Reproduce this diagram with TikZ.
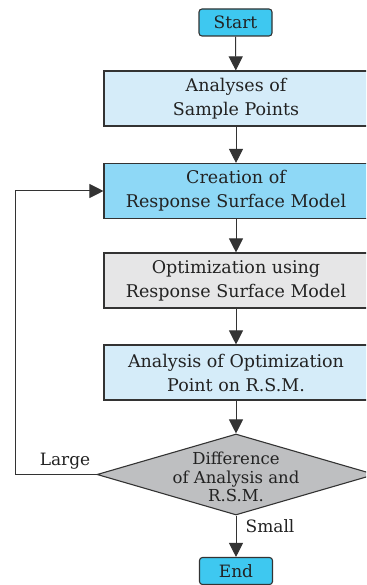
\documentclass[tikz,border=0pt]{standalone}
\usepackage{fontspec}
\setmainfont{DejaVu Serif}
\usetikzlibrary{arrows.meta,shapes.geometric}
\definecolor{termfill}{HTML}{3EC8F0}
\definecolor{lightfill}{HTML}{D5ECF9}
\definecolor{midfill}{HTML}{8ED8F6}
\definecolor{grayfill}{HTML}{E6E6E7}
\definecolor{diafill}{HTML}{BEBFC1}
\definecolor{edge}{HTML}{333333}
\definecolor{txt}{HTML}{222222}
\tikzset{
  term/.style={draw=edge, line width=1.1pt, rounded corners=3pt, minimum width=73pt, minimum height=27pt, inner sep=0pt, fill=termfill, font=\fontsize{17}{17}\selectfont, text=txt},
  procbox/.style={draw=edge, line width=1.1pt, minimum width=264pt, minimum height=55pt, inner sep=0pt, align=center, font=\fontsize{17.5}{24}\selectfont, text=txt},
  decision/.style={diamond, draw=edge, line width=1.1pt, fill=diafill, minimum width=278pt, minimum height=81pt, inner sep=0pt},
  dtext/.style={align=center, inner sep=0pt, font=\fontsize{16.5}{18.5}\selectfont, text=txt},
  lbl/.style={inner sep=0pt, font=\fontsize{17}{17}\selectfont, text=txt},
  flow/.style={draw=edge, line width=1pt, -{Triangle[length=14pt,width=14pt]}},
  plain/.style={draw=edge, line width=1pt}
}
\begin{document}
\begin{tikzpicture}[x=1pt,y=-1pt]
\useasboundingbox (0,0) rectangle (366,585);
\clip (0,0) rectangle (366,585);
\node[term] (start) at (235.5,22.5) {Start};
\node[procbox, fill=lightfill] (ana) at (236,98.5) {Analyses of\\Sample Points};
\node[procbox, fill=midfill] (cre) at (236,191) {Creation of\\Response Surface Model};
\node[procbox, fill=grayfill] (opt) at (236,280.5) {Optimization using\\Response Surface Model};
\node[procbox, fill=lightfill] (aop) at (236,372.5) {Analysis of Optimization\\Point on R.S.M.};
\node[decision] (dia) at (236,474.5) {};
\node[dtext] (diat) at (236,477) {Difference\\of Analysis and\\R.S.M.};
\node[term] (end) at (236,571) {End};
\coordinate (corner) at (15,474.5);
\coordinate (top) at (15,191);
\node[lbl] (large) at (65,461) {Large};
\node[lbl] (small) at (270,526) {Small};
\draw[flow] (start) -- (ana);
\draw[flow] (ana) -- (cre);
\draw[flow] (cre) -- (opt);
\draw[flow] (opt) -- (aop);
\draw[flow] (aop) -- (dia);
\draw[flow] (dia) -- (end);
\draw[plain] (dia.west) -- (corner) -- (top);
\draw[flow] (top) -- (cre.west);
\end{tikzpicture}
\end{document}
